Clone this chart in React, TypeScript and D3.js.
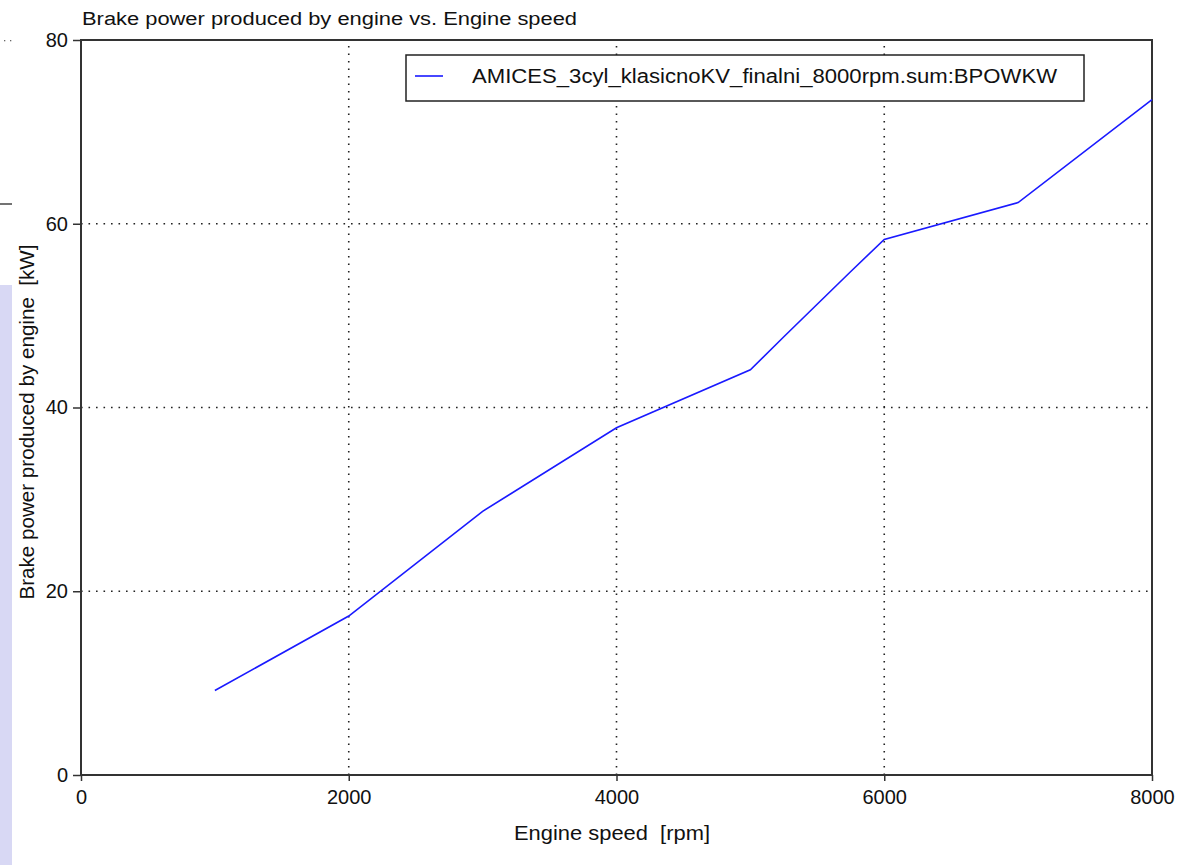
import React, { useEffect, useRef } from "react";
import * as d3 from "d3";

// engine speed [rpm] and brake power [kW]
const speedRpm = [1000, 2000, 3000, 4000, 5000, 5250, 5750, 6000, 7000, 8000];
const powerKw = [9.2, 17.3, 28.7, 37.8, 44.1, 47.7, 54.8, 58.3, 62.3, 73.5];
const xTicks = [0, 2000, 4000, 6000, 8000];
const yTicks = [0, 20, 40, 60, 80];
const seriesName = "AMICES_3cyl_klasicnoKV_finalni_8000rpm.sum:BPOWKW";

const W = 1182;
const H = 865;

export default function App() {
  const ref = useRef<SVGSVGElement>(null);

  useEffect(() => {
    const svg = d3.select(ref.current);
    svg.selectAll("*").remove();

    const font = "'Liberation Sans', Arial, sans-serif";
    const left = 81, right = 1152, top = 40, bottom = 775;

    const x = d3.scaleLinear().domain([0, 8000]).range([left, right]);
    const y = d3.scaleLinear().domain([0, 80]).range([bottom, top]);

    svg.append("rect").attr("width", W).attr("height", H).attr("fill", "#fff");

    // screenshot leftovers at the left edge
    svg.append("rect").attr("x", 0).attr("y", 285).attr("width", 12).attr("height", H - 285).attr("fill", "#d8d8f4");
    svg.append("line").attr("x1", 0).attr("x2", 12).attr("y1", 204).attr("y2", 204).attr("stroke", "#444").attr("stroke-width", 1.5);
    [4, 10].forEach(cx => svg.append("rect").attr("x", cx).attr("y", 40).attr("width", 1.3).attr("height", 1.3).attr("fill", "#666"));

    // dotted grid
    const grid = svg.append("g").attr("stroke", "#222").attr("stroke-width", 1.6).attr("stroke-dasharray", "1.6 5.9");
    xTicks.slice(1, -1).forEach(t => {
      grid.append("line").attr("x1", x(t)).attr("x2", x(t)).attr("y1", bottom).attr("y2", top);
    });
    yTicks.slice(1, -1).forEach(t => {
      grid.append("line").attr("x1", left).attr("x2", right).attr("y1", y(t)).attr("y2", y(t));
    });

    // frame
    svg.append("rect")
      .attr("x", left).attr("y", top)
      .attr("width", right - left).attr("height", bottom - top)
      .attr("fill", "none").attr("stroke", "#333").attr("stroke-width", 2);

    // y axis
    const yAxis = svg.append("g")
      .attr("transform", `translate(${left},0)`)
      .call(d3.axisLeft(y).tickValues(yTicks).tickSize(8).tickPadding(5).tickFormat(d3.format("d")));
    yAxis.select(".domain").remove();
    yAxis.selectAll("line").attr("stroke", "#333").attr("stroke-width", 1.5);
    yAxis.selectAll("text").attr("font-family", font).attr("font-size", 20).attr("fill", "#111");

    // x axis
    const xAxis = svg.append("g")
      .attr("transform", `translate(0,${bottom})`)
      .call(d3.axisBottom(x).tickValues(xTicks).tickSize(6).tickPadding(9).tickFormat(d3.format("d")));
    xAxis.select(".domain").remove();
    xAxis.selectAll("line").attr("stroke", "#333").attr("stroke-width", 1.5);
    xAxis.selectAll("text").attr("font-family", font).attr("font-size", 20).attr("fill", "#111");

    // series
    const line = d3.line<number>().x((d, i) => x(speedRpm[i])).y(d => y(d));
    svg.append("path")
      .datum(powerKw)
      .attr("d", line)
      .attr("fill", "none")
      .attr("stroke", "#1a1aff")
      .attr("stroke-width", 1.6);

    // legend
    svg.append("rect").attr("x", 406).attr("y", 55).attr("width", 678).attr("height", 46)
      .attr("fill", "#fff").attr("stroke", "#222").attr("stroke-width", 1.5);
    svg.append("line").attr("x1", 415).attr("x2", 443).attr("y1", 76).attr("y2", 76)
      .attr("stroke", "#1a1aff").attr("stroke-width", 1.6);
    svg.append("text").attr("x", 472).attr("y", 83)
      .attr("font-family", font).attr("font-size", 20).attr("fill", "#111")
      .attr("textLength", 585).attr("lengthAdjust", "spacingAndGlyphs")
      .text(seriesName);

    // titles
    svg.append("text").attr("x", 82).attr("y", 25)
      .attr("font-family", font).attr("font-size", 18).attr("fill", "#111")
      .attr("textLength", 495).attr("lengthAdjust", "spacingAndGlyphs")
      .text("Brake power produced by engine vs. Engine speed");
    svg.append("text").attr("x", 612).attr("y", 840).attr("text-anchor", "middle")
      .attr("font-family", font).attr("font-size", 20).attr("fill", "#111")
      .attr("textLength", 196).attr("lengthAdjust", "spacingAndGlyphs")
      .attr("xml:space", "preserve")
      .text("Engine speed\u00a0\u00a0[rpm]");
    svg.append("text")
      .attr("transform", `translate(34,422) rotate(-90)`)
      .attr("text-anchor", "middle")
      .attr("font-family", font).attr("font-size", 20).attr("fill", "#111")
      .attr("textLength", 355).attr("lengthAdjust", "spacingAndGlyphs")
      .text("Brake power produced by engine\u00a0\u00a0[kW]");
  }, []);

  return (
    <svg
      ref={ref}
      width={W}
      height={H}
      style={{ position: "absolute", left: 0, top: 0, display: "block" }}
    />
  );
}
